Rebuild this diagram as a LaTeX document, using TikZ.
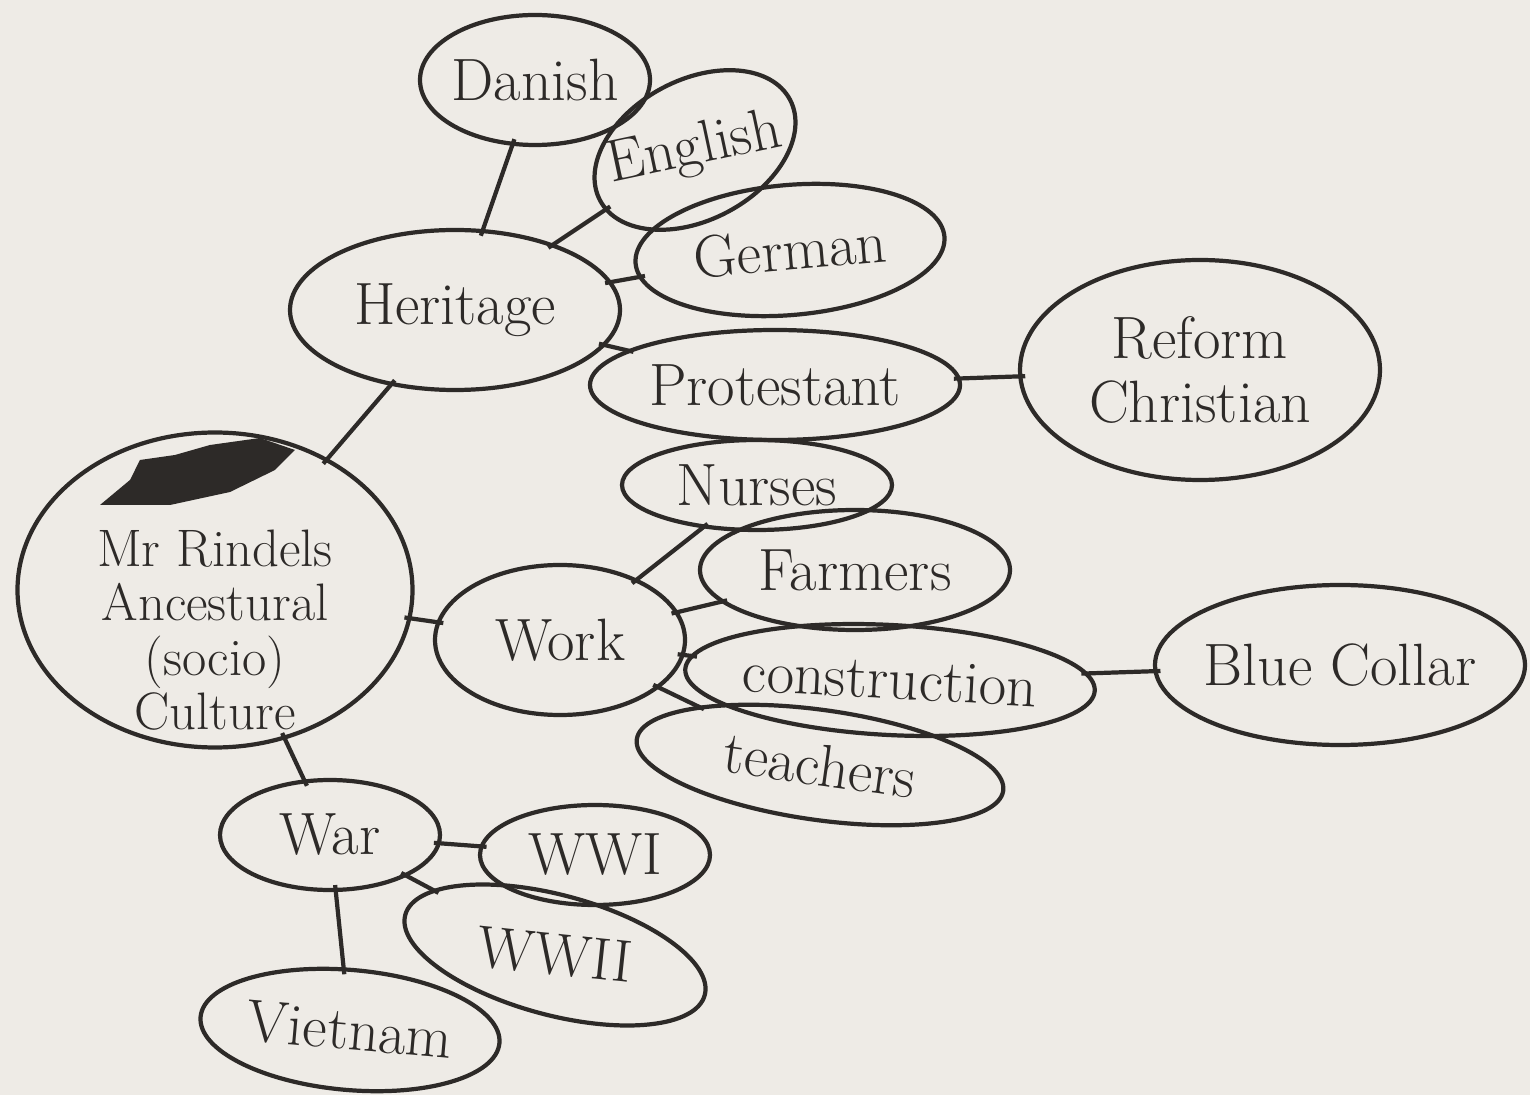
\documentclass[tikz,border=0pt]{standalone}
\usepackage{tikz}
\usetikzlibrary{shapes}

\definecolor{paper}{RGB}{238,235,230}
\definecolor{ink}{RGB}{45,42,40}

\tikzset{
  bubble/.style={ellipse, draw=ink, line width=1.2pt, text=ink, inner sep=-2pt, align=center,
    font=\fontsize{17}{18}\selectfont},
  word/.style={text=ink, align=center, font=\fontsize{17}{18}\selectfont},
  link/.style={draw=ink, line width=1.2pt, shorten <=-2pt, shorten >=-2pt}
}

\begin{document}
\begin{tikzpicture}[scale=1.0]
\fill[paper] (0,0) rectangle (15.3,-10.95);
\useasboundingbox (0,0) rectangle (15.3,-10.95);

\node[bubble, minimum width=2.3cm, minimum height=1.3cm] (danish) at (5.35,-0.8){Danish};
\node[bubble, minimum width=2.15cm, minimum height=1.4cm, rotate=28] (english) at (6.95,-1.5){};
\node[word, rotate=12] (englishtext) at (6.95,-1.5){English};
\node[bubble, minimum width=3.1cm, minimum height=1.3cm, rotate=5] (german) at (7.9,-2.5){German};
\node[bubble, minimum width=3.3cm, minimum height=1.6cm] (heritage) at (4.55,-3.1){Heritage};
\node[bubble, minimum width=3.7cm, minimum height=1.1cm] (protestant) at (7.75,-3.85){Protestant};
\node[bubble, minimum width=3.6cm, minimum height=2.2cm] (reform) at (12.0,-3.7){Reform\\Christian};
\node[bubble, minimum width=2.7cm, minimum height=0.9cm] (nurses) at (7.57,-4.85){Nurses};
\node[bubble, minimum width=3.95cm, minimum height=3.15cm] (mr) at (2.15,-5.9){};
\node[word, font=\fontsize{15}{15.5}\selectfont] (mrtext) at (2.15,-6.3){Mr Rindels\\Ancestural\\(socio)\\Culture};
\fill[ink] (1.0,-5.05) -- (1.3,-4.8) -- (1.4,-4.6) -- (1.75,-4.55) -- (2.1,-4.45) -- (2.6,-4.38)
  -- (2.95,-4.5) -- (2.75,-4.7) -- (2.3,-4.92) -- (1.7,-5.05) -- cycle;
\node[bubble, minimum width=2.5cm, minimum height=1.5cm] (work) at (5.6,-6.4){Work};
\node[bubble, minimum width=3.1cm, minimum height=1.2cm] (farmers) at (8.55,-5.7){Farmers};
\node[bubble, minimum width=4.1cm, minimum height=1.1cm, rotate=-3] (construction) at (8.9,-6.8){construction};
\node[bubble, minimum width=3.7cm, minimum height=1.6cm] (bluecollar) at (13.4,-6.65){Blue Collar};
\node[bubble, minimum width=3.7cm, minimum height=1.1cm, rotate=-8] (teachers) at (8.2,-7.65){teachers};
\node[bubble, minimum width=2.2cm, minimum height=1.1cm] (war) at (3.3,-8.35){War};
\node[bubble, minimum width=2.3cm, minimum height=1.0cm] (wwi) at (5.95,-8.55){WWI};
\node[bubble, minimum width=3.1cm, minimum height=1.2cm, rotate=-15] (wwii) at (5.55,-9.55){};
\node[word, rotate=-6] (wwiitext) at (5.55,-9.55){WWII};
\node[bubble, minimum width=3.0cm, minimum height=1.2cm, rotate=-5] (vietnam) at (3.5,-10.3){Vietnam};

\draw[link] (heritage) -- (danish);
\draw[link] (heritage) -- (english);
\draw[link] (heritage) -- (german);
\draw[link] (heritage) -- (protestant);
\draw[link] (heritage) -- (mr);
\draw[link] (protestant) -- (reform);
\draw[link] (mr) -- (work);
\draw[link] (work) -- (nurses);
\draw[link] (work) -- (farmers);
\draw[link] (work) -- (construction);
\draw[link] (work) -- (teachers);
\draw[link] (construction) -- (bluecollar);
\draw[link] (mr) -- (war);
\draw[link] (war) -- (wwi);
\draw[link] (war) -- (wwii);
\draw[link] (war) -- (vietnam);
\end{tikzpicture}
\end{document}
